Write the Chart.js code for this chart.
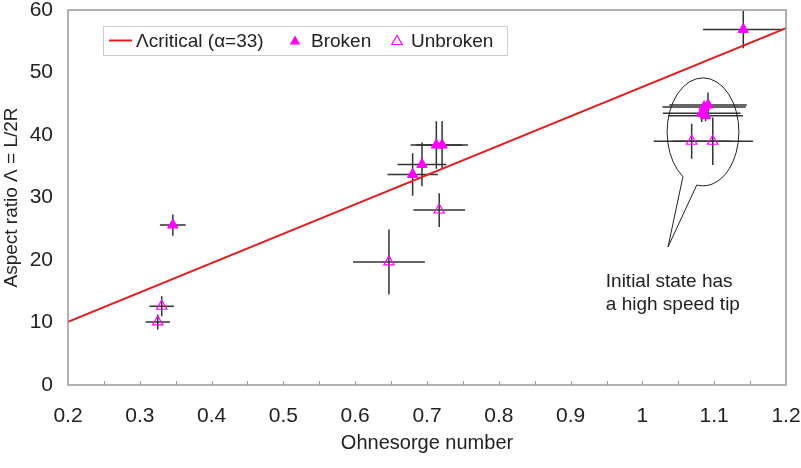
<!DOCTYPE html>
<html>
<head>
<meta charset="utf-8">
<script src="https://cdn.jsdelivr.net/npm/chart.js@4"></script>
<style>
  html, body { margin: 0; padding: 0; background: #fff; }
  #wrap { width: 801px; height: 468px; }
</style>
</head>
<body>
<div id="wrap"><canvas id="ohChart" width="801" height="468"></canvas></div>
<script>
// critical line
const lineX = [0.2, 1.2];
const lineY = [10.1, 57.1];

// broken jets
const brokenX = [0.346, 0.680, 0.693, 0.713, 0.721, 1.0914, 1.0860, 1.0826, 1.0880, 1.1405];
const brokenY = [25.6, 33.7, 35.3, 38.4, 38.4, 44.8, 44.5, 43.5, 43.1, 56.9];
const brokenXErr = [0.018, 0.035, 0.034, 0.036, 0.036, 0.054, 0.058, 0.054, 0.052, 0.056];
const brokenYErr = [1.7, 3.4, 3.5, 3.8, 3.8, 2.0, 1.0, 1.4, 0.9, 3.0];

// unbroken jets
const unX = [0.3305, 0.325, 0.647, 0.717, 1.0686, 1.098];
const unY = [12.6, 10.1, 19.7, 28.0, 39.0, 39.0];
const unXErr = [0.017, 0.017, 0.050, 0.036, 0.053, 0.056];
const unYErr = [1.6, 1.2, 5.2, 2.7, 2.8, 3.8];

const xTicks = [0.2, 0.3, 0.4, 0.5, 0.6, 0.7, 0.8, 0.9, 1, 1.1, 1.2];
const yTicks = [0, 10, 20, 30, 40, 50, 60];

const FONT = '"Liberation Sans", Arial, sans-serif';
const MAGENTA = '#ff00ff';

function pts(xs, ys) {
  return xs.map((x, i) => ({ x: x, y: ys[i] }));
}

function drawTri(ctx, x, y, r, fill) {
  ctx.beginPath();
  ctx.moveTo(x, y - r);
  ctx.lineTo(x + r * 0.866, y + r * 0.5);
  ctx.lineTo(x - r * 0.866, y + r * 0.5);
  ctx.closePath();
  if (fill) { ctx.fillStyle = MAGENTA; ctx.fill(); }
  else { ctx.strokeStyle = MAGENTA; ctx.lineWidth = 1.2; ctx.stroke(); }
}

const extras = {
  id: 'extras',
  beforeDatasetsDraw(chart) {
    const ctx = chart.ctx, sx = chart.scales.x, sy = chart.scales.y;
    ctx.save();
    ctx.strokeStyle = '#333';
    ctx.lineWidth = 1.5;
    const bars = (xs, ys, ex, ey) => {
      xs.forEach((x, i) => {
        const px = sx.getPixelForValue(x), py = sy.getPixelForValue(ys[i]);
        ctx.beginPath();
        ctx.moveTo(sx.getPixelForValue(x - ex[i]), py);
        ctx.lineTo(sx.getPixelForValue(x + ex[i]), py);
        ctx.moveTo(px, sy.getPixelForValue(ys[i] - ey[i]));
        ctx.lineTo(px, sy.getPixelForValue(ys[i] + ey[i]));
        ctx.stroke();
      });
    };
    bars(brokenX, brokenY, brokenXErr, brokenYErr);
    bars(unX, unY, unXErr, unYErr);
    ctx.restore();
  },
  afterDraw(chart) {
    const ctx = chart.ctx, a = chart.chartArea, sx = chart.scales.x, sy = chart.scales.y;
    ctx.save();
    // frame
    ctx.strokeStyle = '#999';
    ctx.lineWidth = 1.5;
    ctx.strokeRect(a.left, a.top, a.right - a.left, a.bottom - a.top);
    // minor ticks along x
    ctx.lineWidth = 1;
    for (let v = 0.25; v < 1.2; v += 0.05) {
      const px = Math.round(sx.getPixelForValue(v)) + 0.5;
      ctx.beginPath();
      ctx.moveTo(px, a.bottom);
      ctx.lineTo(px, a.bottom - 4);
      ctx.stroke();
    }

    // speech bubble round the high speed tip cases
    const cx = sx.getPixelForValue(1.0844), cy = sy.getPixelForValue(40.5);
    const rx = sx.getPixelForValue(1.0844 + 0.050) - cx;
    const ry = cy - sy.getPixelForValue(40.5 + 8.64);
    const tipX = sx.getPixelForValue(1.0357), tipY = sy.getPixelForValue(22.1);
    const a0 = 124 * Math.PI / 180, a1 = 460 * Math.PI / 180;
    ctx.strokeStyle = '#222';
    ctx.lineWidth = 1;
    ctx.beginPath();
    ctx.ellipse(cx, cy, rx, ry, 0, a0, a1);
    ctx.lineTo(tipX, tipY);
    ctx.closePath();
    ctx.stroke();

    ctx.fillStyle = '#222';
    ctx.font = '19px ' + FONT;
    ctx.textAlign = 'left';
    ctx.textBaseline = 'alphabetic';
    const tx = sx.getPixelForValue(0.949);
    ctx.fillText('Initial state has', tx, sy.getPixelForValue(15.7));
    ctx.fillText('a high speed tip', tx, sy.getPixelForValue(12.0));

    // legend box
    const lx = 103, ly = 26, lw = 404, lh = 29, my = ly + lh / 2;
    ctx.fillStyle = '#fff';
    ctx.fillRect(lx, ly, lw, lh);
    ctx.strokeStyle = '#ccc';
    ctx.lineWidth = 1;
    ctx.strokeRect(lx + 0.5, ly + 0.5, lw, lh);
    ctx.strokeStyle = '#e02020';
    ctx.lineWidth = 2;
    ctx.beginPath();
    ctx.moveTo(109, my);
    ctx.lineTo(132, my);
    ctx.stroke();
    ctx.fillStyle = '#222';
    ctx.textBaseline = 'middle';
    ctx.fillText('\u039Bcritical (\u03B1=33)', 136, my + 1);
    drawTri(ctx, 295, my + 1, 6, true);
    ctx.fillStyle = '#222';
    ctx.fillText('Broken', 311, my + 1);
    drawTri(ctx, 397, my + 1, 6, false);
    ctx.fillStyle = '#222';
    ctx.fillText('Unbroken', 411, my + 1);
    ctx.restore();
  }
};

new Chart(document.getElementById('ohChart'), {
  type: 'scatter',
  data: {
    datasets: [
      {
        label: '\u039Bcritical (\u03B1=33)',
        type: 'line',
        data: pts(lineX, lineY),
        borderColor: '#e02020',
        borderWidth: 2,
        pointRadius: 0,
        fill: false
      },
      {
        label: 'Broken',
        data: pts(brokenX, brokenY),
        pointStyle: 'triangle',
        pointRadius: 6,
        backgroundColor: MAGENTA,
        borderColor: MAGENTA,
        borderWidth: 1
      },
      {
        label: 'Unbroken',
        data: pts(unX, unY),
        pointStyle: 'triangle',
        pointRadius: 6,
        backgroundColor: 'rgba(255,255,255,0)',
        borderColor: MAGENTA,
        borderWidth: 1.2
      }
    ]
  },
  options: {
    responsive: false,
    animation: false,
    layout: { padding: { top: 10, right: 15, bottom: 13, left: 0 } },
    plugins: {
      legend: { display: false },
      tooltip: { enabled: false }
    },
    scales: {
      x: {
        type: 'linear',
        min: 0.2,
        max: 1.2,
        afterFit: (s) => { s.height = 70; s.paddingLeft = 0; s.paddingRight = 0; },
        afterBuildTicks: (s) => { s.ticks = xTicks.map(v => ({ value: v })); },
        grid: { display: false, drawTicks: false },
        border: { display: false },
        ticks: {
          padding: 19,
          color: '#222',
          font: { family: FONT, size: 21 },
          maxRotation: 0,
          autoSkip: false,
          callback: (v) => String(Number(v.toFixed(1)))
        },
        title: {
          display: true,
          text: 'Ohnesorge number',
          color: '#222',
          padding: 0,
          font: { family: FONT, size: 20 }
        }
      },
      y: {
        type: 'linear',
        min: 0,
        max: 60,
        afterFit: (s) => { s.width = 68; s.paddingTop = 0; s.paddingBottom = 0; },
        afterBuildTicks: (s) => { s.ticks = yTicks.map(v => ({ value: v })); },
        grid: { display: false, drawTicks: false },
        border: { display: false },
        ticks: {
          padding: 15,
          color: '#222',
          font: { family: FONT, size: 21 }
        },
        title: {
          display: true,
          text: 'Aspect ratio \u039B = L/2R',
          color: '#222',
          padding: 0,
          font: { family: FONT, size: 19 }
        }
      }
    }
  },
  plugins: [extras]
});
</script>
</body>
</html>
